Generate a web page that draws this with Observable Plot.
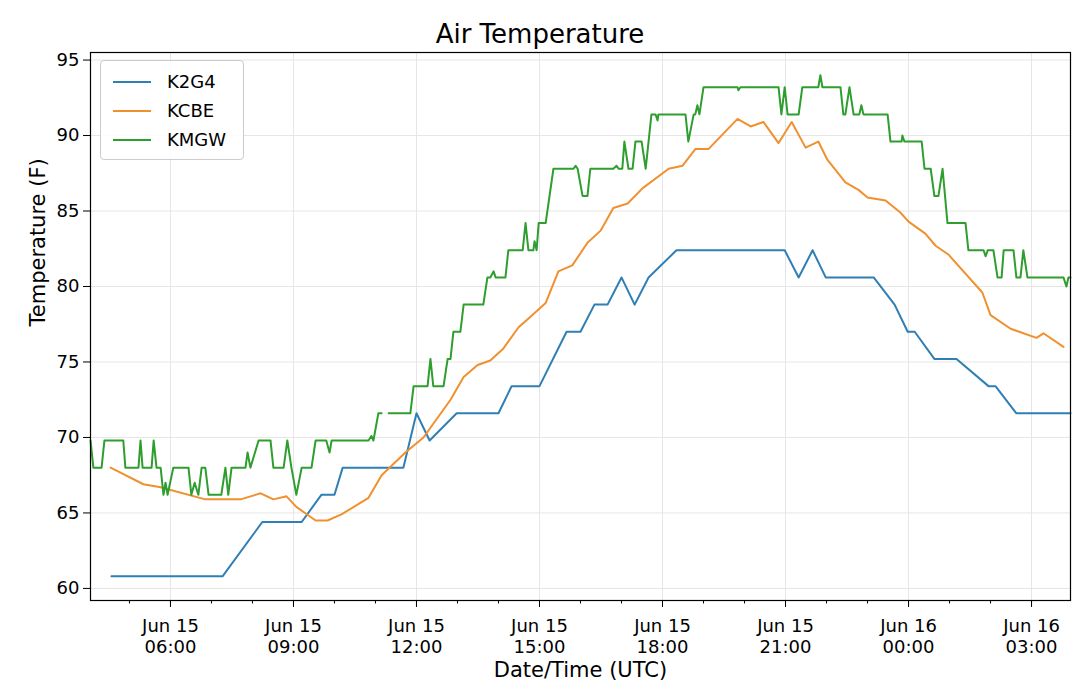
<!DOCTYPE html>
<html><head><meta charset="utf-8">
<script src="https://cdn.jsdelivr.net/npm/d3@7"></script>
<script src="https://cdn.jsdelivr.net/npm/@observablehq/plot@0.6"></script>
<style>
body{margin:0;background:#fff;font-family:"DejaVu Sans",sans-serif;}
#wrap{position:relative;width:1080px;}
#title{height:45px;text-align:center;font-size:26px;line-height:68px;color:#000;}
#legend{position:absolute;left:100px;top:60px;width:144px;height:100px;border:1px solid #ccc;border-radius:4px;background:rgba(255,255,255,0.85);font-size:18px;box-sizing:border-box;padding:6px 0 0 12px;}
#legend div{height:29px;display:flex;align-items:center;}
#legend span.l{display:inline-block;width:38px;height:2px;margin-right:16px;}
</style></head><body>
<div id="wrap"><div id="title">Air Temperature</div><div id="legend"></div><div id="chart"></div></div>
<script>
// hours since 2019-06-15 00:00 UTC
const k2g4Hours = [4.56,7.27,8.24,9.20,9.68,10.0,10.2,11.68,12.0,12.32,12.98,14.0,14.32,15.0,15.66,16.0,16.34,16.66,17.0,17.32,17.66,18.34,20.98,21.32,21.66,21.98,23.15,23.66,23.98,24.15,24.63,25.17,25.95,26.12,26.63,27.95];
const k2g4Temp = [60.8,60.8,64.4,64.4,66.2,66.2,68,68,71.6,69.8,71.6,71.6,73.4,73.4,77,77,78.8,78.8,80.6,78.8,80.6,82.4,82.4,80.6,82.4,80.6,80.6,78.8,77,77,75.2,75.2,73.4,73.4,71.6,71.6];
const kcbeHours = [4.54,5.34,5.76,6.85,7.71,8.2,8.51,8.83,9.07,9.54,9.83,10.17,10.83,11.15,11.73,12.17,12.83,13.15,13.49,13.8,14.12,14.49,14.78,15.15,15.46,15.8,16.17,16.49,16.8,17.15,17.51,18.15,18.49,18.8,19.12,19.83,20.15,20.46,20.83,21.15,21.49,21.8,22.02,22.46,22.78,23.0,23.44,23.8,24.0,24.41,24.66,24.98,25.8,26.0,26.49,27.12,27.29,27.78];
const kcbeTemp = [68.0,66.9,66.7,65.9,65.9,66.3,65.9,66.1,65.4,64.5,64.5,64.9,66.0,67.5,69.0,70.0,72.5,74.0,74.8,75.1,75.9,77.3,78.0,78.9,81.0,81.4,82.9,83.7,85.2,85.5,86.5,87.8,88.0,89.1,89.1,91.1,90.6,90.9,89.5,90.9,89.2,89.6,88.4,86.9,86.4,85.9,85.7,84.9,84.3,83.5,82.7,82.1,79.6,78.1,77.2,76.6,76.9,76.0];
const kmgwHours = [4.05,4.12,4.32,4.39,4.85,4.9,5.22,5.27,5.32,5.54,5.59,5.66,5.76,5.83,5.88,5.93,6.07,6.44,6.51,6.59,6.68,6.76,6.85,6.93,7.24,7.34,7.41,7.49,7.83,7.88,7.95,8.15,8.44,8.51,8.76,8.85,8.95,9.07,9.2,9.44,9.54,9.8,9.88,9.93,10.83,10.9,10.95,11.07,11.15,11.25,11.32,11.85,11.93,12.27,12.34,12.41,12.66,12.76,12.83,12.9,13.07,13.15,13.63,13.73,13.8,13.88,13.93,14.17,14.24,14.59,14.66,14.73,14.85,14.88,14.93,14.98,15.15,15.34,15.83,15.88,15.93,16.05,16.17,16.24,16.8,16.88,16.93,17.02,17.07,17.17,17.27,17.34,17.49,17.59,17.73,17.83,17.88,17.9,18.56,18.63,18.76,18.8,18.85,18.9,19.0,19.83,19.85,19.9,20.83,20.9,20.98,21.05,21.32,21.41,21.8,21.85,21.9,22.34,22.41,22.46,22.56,22.66,22.8,22.85,22.9,23.49,23.56,23.83,23.85,23.9,24.32,24.39,24.54,24.63,24.73,24.83,24.95,25.39,25.46,25.83,25.88,25.93,26.07,26.17,26.27,26.32,26.56,26.63,26.73,26.8,26.9,27.78,27.85,27.9,27.95];
const kmgwTemp = [69.8,68,68,69.8,69.8,68,68,69.8,68,68,69.8,68,68,66.2,67,66.2,68,68,66.2,67,66.2,68,68,66.2,66.2,68,66.2,68,68,69,68,69.8,69.8,68,68,69.8,68,66.2,68,68,69.8,69.8,69,69.8,69.8,70.1,69.8,71.6,71.6,null,71.6,71.6,73.4,73.4,75.2,73.4,73.4,75.2,75.2,77,77,78.8,78.8,80.6,80.6,81,80.6,80.6,82.4,82.4,84.2,82.4,82.4,83,82.4,84.2,84.2,87.8,87.8,88,87.8,86,86,87.8,87.8,88,87.8,87.8,89.6,87.8,87.8,89.6,89.6,87.8,91.4,91.4,91,91.4,91.4,89.6,91.4,91.4,92,91.4,93.2,93.2,93,93.2,93.2,91.4,93.2,91.4,91.4,93.2,93.2,94,93.2,93.2,91.4,91.4,93.2,91.4,91.4,92,91.4,91.4,89.6,89.6,90,89.6,89.6,87.8,87.8,86,86,87.8,84.2,84.2,82.4,82.4,82,82.4,82.4,80.6,80.6,82.4,82.4,80.6,80.6,82.4,80.6,80.6,80,80.6,80.6];
const stations = ["K2G4","KCBE","KMGW"];
const colors = ["#2f7fb5","#f0902f","#2e9e2e"];
const yTicks = [60,65,70,75,80,85,90,95];
const xTickHours = [6,9,12,15,18,21,24,27];

const base = Date.UTC(2019,5,15);
const toDate = h => new Date(base + h*3600000);
const series = [[k2g4Hours,k2g4Temp],[kcbeHours,kcbeTemp],[kmgwHours,kmgwTemp]];
const data = [];
series.forEach(([hs,ts],i)=>hs.forEach((h,j)=>data.push({station:stations[i],t:toDate(h),v:ts[j]})));
const fmt = d3.utcFormat("%b %d\n%H:%M");
const minor = d3.range(5,28).map(toDate);
const major = xTickHours.map(toDate);

const chart = Plot.plot({
  width:1080, height:637, marginTop:7, marginBottom:82, marginLeft:90, marginRight:10,
  style:{fontFamily:"DejaVu Sans", fontSize:"17px", color:"#000", background:"#fff"},
  x:{type:"utc", domain:[toDate(4.05),toDate(27.95)]},
  y:{domain:[59.2,95.5]},
  color:{domain:stations, range:colors},
  marks:[
    Plot.gridX(major,{stroke:"#e6e6e6",strokeOpacity:1}),
    Plot.gridY(yTicks,{stroke:"#e6e6e6",strokeOpacity:1}),
    Plot.axisX(minor,{tickSize:3.5,text:null,label:null,stroke:"#000"}),
    Plot.axisX(major,{tickSize:7,tickFormat:fmt,fontSize:18,tickPadding:9,lineHeight:1.2,label:null,stroke:"#000"}),
    Plot.axisY(yTicks,{tickSize:7,fontSize:18,tickPadding:4,label:null,stroke:"#000"}),
    Plot.line(data,{x:"t",y:"v",z:"station",stroke:"station",strokeWidth:2}),
    Plot.frame({stroke:"#000",strokeWidth:1.2}),
    Plot.text(["Date/Time (UTC)"],{frameAnchor:"bottom",dy:76,fontSize:21,text:d=>d}),
    Plot.text(["Temperature (F)"],{frameAnchor:"left",dx:-52,rotate:-90,fontSize:21,text:d=>d})
  ]
});
document.getElementById("chart").appendChild(chart);
const lg=document.getElementById("legend");
stations.forEach((s,i)=>{const d=document.createElement("div");d.innerHTML=`<span class="l" style="background:${colors[i]}"></span>${s}`;lg.appendChild(d);});
</script></body></html>
